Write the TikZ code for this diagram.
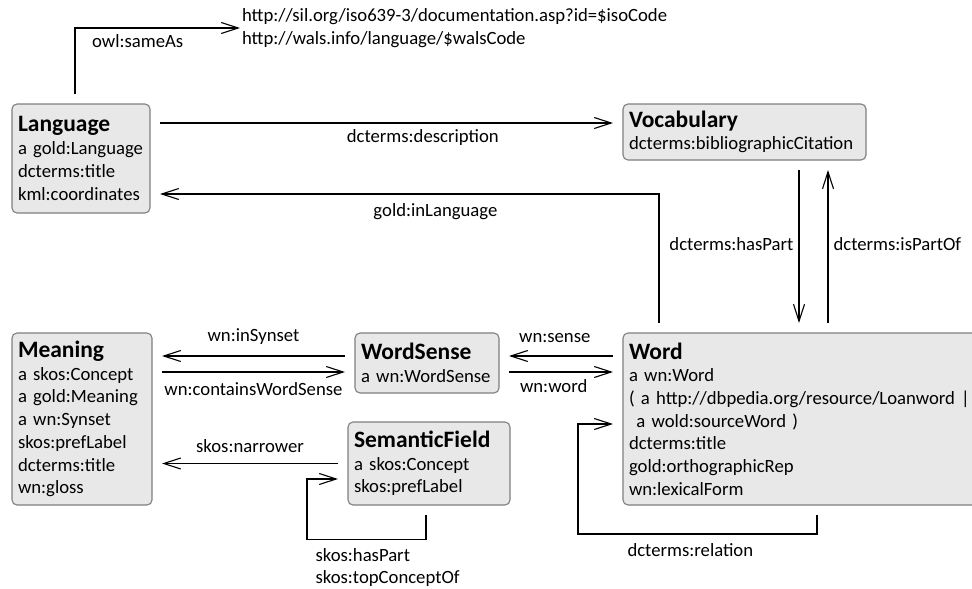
\documentclass[tikz,border=0pt]{standalone}
\usepackage{fontspec}
\setmainfont{Carlito}
\usetikzlibrary{arrows.meta}
\definecolor{boxfill}{HTML}{E8E8E8}
\definecolor{boxline}{HTML}{7F7F7F}
\tikzset{
    x=1pt, y=-1pt, % one unit is one pixel of the sketch, y going down
    }
\newcommand{\classname}[1]{{\fontsize{23.5}{25}\selectfont\bfseries #1}}

\begin{document}
\begin{tikzpicture}[
classnode/.style={rectangle, rounded corners=5pt, draw=boxline, fill=boxfill, line width=1.1pt, align=left, inner xsep=6pt, inner ysep=4pt, outer sep=10pt, font=\fontsize{18.7}{22.7}\selectfont},
link/.style={line width=1.1pt, -{Straight Barb[length=17pt,width=11pt]}},
linklabel/.style={font=\fontsize{18.7}{22.7}\selectfont, text height=12pt, text depth=4pt, inner sep=2pt},
]
\useasboundingbox (0,0) rectangle (972,589);

\node[classnode, text width=126pt, minimum height=109pt] (Language) at (81,158.5) {\classname{Language}\\ a gold:Language\\ dcterms:title\\ kml:coordinates};
\node[classnode, text width=231pt, minimum height=56pt] (Vocabulary) at (744.5,132) {\classname{Vocabulary}\\ dcterms:bibliographicCitation};
\node[classnode, text width=128pt, minimum height=172pt] (Meaning) at (82,419) {\classname{Meaning}\\ a skos:Concept\\ a gold:Meaning\\ a wn:Synset\\ skos:prefLabel\\ dcterms:title\\ wn:gloss};
\node[classnode, text width=132pt, minimum height=60pt] (WordSense) at (427,363) {\classname{WordSense}\\ a wn:WordSense};
\node[classnode, text width=150pt, minimum height=83pt] (SemanticField) at (429,463.5) {\classname{SemanticField}\\ a skos:Concept\\ skos:prefLabel};
\node[classnode, text width=388pt, minimum height=172pt] (Word) at (823,419) {\classname{Word}\\ a wn:Word\\ ( a http://dbpedia.org/resource/Loanword |\\ \hspace*{0.4em}a wold:sourceWord )\\ dcterms:title\\ gold:orthographicRep\\ wn:lexicalForm};
\node[font=\fontsize{18.7}{23.5}\selectfont, align=left, anchor=west, inner sep=0pt, outer sep=2pt] (URLs) at (240,28) {http://sil.org/iso639-3/documentation.asp?id=\$isoCode\\ http://wals.info/language/\$walsCode};

\draw[link] ([xshift=-6pt]Language.north) |- node[linklabel, pos=0.69, below=5pt] {owl:sameAs} (URLs.west);
\draw[link] ([yshift=35.5pt]Language.east) -- node[linklabel, pos=0.58, below=5pt] {dcterms:description} ([yshift=9pt]Vocabulary.west);
\draw[link] ([xshift=-164pt]Word.north) |- node[linklabel, pos=0.724, below=8pt] {gold:inLanguage} ([yshift=-35.5pt]Language.east);
\draw[link] ([xshift=54.5pt]Vocabulary.south) -- node[linklabel, left=3pt] {dcterms:hasPart} ([xshift=-24pt]Word.north);
\draw[link] ([xshift=5pt]Word.north) -- node[linklabel, right=3pt] {dcterms:isPartOf} ([xshift=83.5pt]Vocabulary.south);
\draw[link] ([yshift=7pt]WordSense.west) -- node[linklabel, above=8pt] {wn:inSynset} ([yshift=63pt]Meaning.east);
\draw[link] ([yshift=47pt]Meaning.east) -- node[linklabel, below=9pt] {wn:containsWordSense} ([yshift=-9pt]WordSense.west);
\draw[link] ([yshift=63pt]Word.west) -- node[linklabel, pos=0.56, above=7pt] {wn:sense} ([yshift=7pt]WordSense.east);
\draw[link] ([yshift=-9pt]WordSense.east) -- node[linklabel, pos=0.43, below=6pt] {wn:word} ([yshift=47pt]Word.west);
\draw[link] (SemanticField.west) -- node[linklabel, above=4pt] {skos:narrower} ([yshift=-44.5pt]Meaning.east);
\draw[link] ([xshift=-3pt]SemanticField.south) |- ++(-119,24.5) node[font=\fontsize{18.7}{22.7}\selectfont, align=left, anchor=north west, inner sep=0pt, xshift=8pt, yshift=-8pt] {skos:hasPart\\ skos:topConceptOf} |- ([yshift=-15.5pt]SemanticField.west);
\draw[link] ([xshift=-6pt]Word.south) |- node[linklabel, pos=0.765, below=8pt] {dcterms:relation} ++(-239,19) |- ([yshift=-5pt]Word.west);
\end{tikzpicture}
\end{document}
